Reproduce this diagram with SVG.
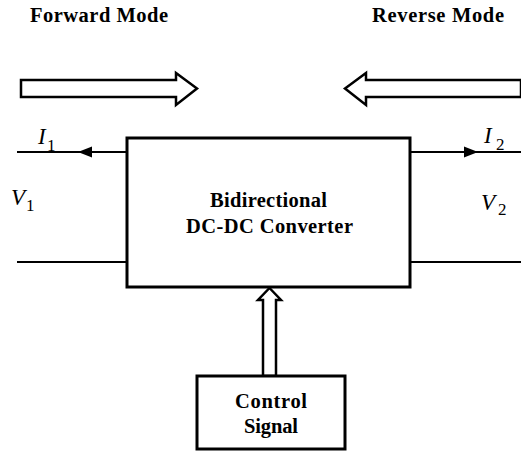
<svg xmlns="http://www.w3.org/2000/svg" width="521" height="452" viewBox="0 0 521 452">
<style>
.t{font-family:"Liberation Serif",serif;font-weight:bold;font-size:20.5px;fill:#000}
.m{font-family:"Liberation Serif",serif;font-style:italic;font-size:23px;fill:#000}
.s{font-family:"Liberation Serif",serif;font-style:normal;font-size:17px;fill:#000}
.box{fill:#fff;stroke:#000;stroke-width:3}
.w{fill:#fff;stroke:#000;stroke-width:2.5;stroke-linejoin:miter}
.ln{stroke:#000;stroke-width:2;fill:none}
</style>
<rect width="521" height="452" fill="#fff"/>
<g id="labels">
<text class="t" x="30" y="22" textLength="138" lengthAdjust="spacing">Forward Mode</text>
<text class="t" x="372" y="22" textLength="132" lengthAdjust="spacing">Reverse Mode</text>
</g>
<g id="forward-arrow"><polygon class="w" points="21,80 176,80 176,73 197,88.5 176,105 176,97 21,97"/></g>
<g id="reverse-arrow"><polygon class="w" points="521,80 366,80 366,73 345,88.5 366,105 366,97 521,97"/></g>
<g id="connectors">
<line class="ln" x1="17" y1="152" x2="127" y2="152"/>
<polygon points="78,152 92,146.5 92,157.5" fill="#000"/>
<line class="ln" x1="410" y1="152" x2="521" y2="152"/>
<polygon points="478,152 464,146.5 464,157.5" fill="#000"/>
<line class="ln" x1="17" y1="262" x2="127" y2="262"/>
<line class="ln" x1="410" y1="262" x2="521" y2="262"/>
<polygon class="w" points="269.5,288 281,300 276,300 276,376 263,376 263,300 258,300"/>
</g>
<g id="converter">
<rect class="box" x="127" y="138" width="283" height="149"/>
<text class="t" x="210" y="207" textLength="117" lengthAdjust="spacing">Bidirectional</text>
<text class="t" x="186" y="233" textLength="167" lengthAdjust="spacing">DC-DC Converter</text>
</g>
<g id="control">
<rect class="box" x="197" y="376" width="148" height="73"/>
<text class="t" x="235" y="408" textLength="72" lengthAdjust="spacing">Control</text>
<text class="t" x="244" y="433" textLength="54" lengthAdjust="spacing">Signal</text>
</g>
<g id="vars">
<text class="m" x="38" y="144">I<tspan class="s" x="47" y="151">1</tspan></text>
<text class="m" x="484" y="143">I<tspan class="s" x="496" y="150">2</tspan></text>
<text class="m" x="11" y="205">V<tspan class="s" x="26" y="211">1</tspan></text>
<text class="m" x="481" y="210">V<tspan class="s" x="498" y="215">2</tspan></text>
</g>
</svg>
